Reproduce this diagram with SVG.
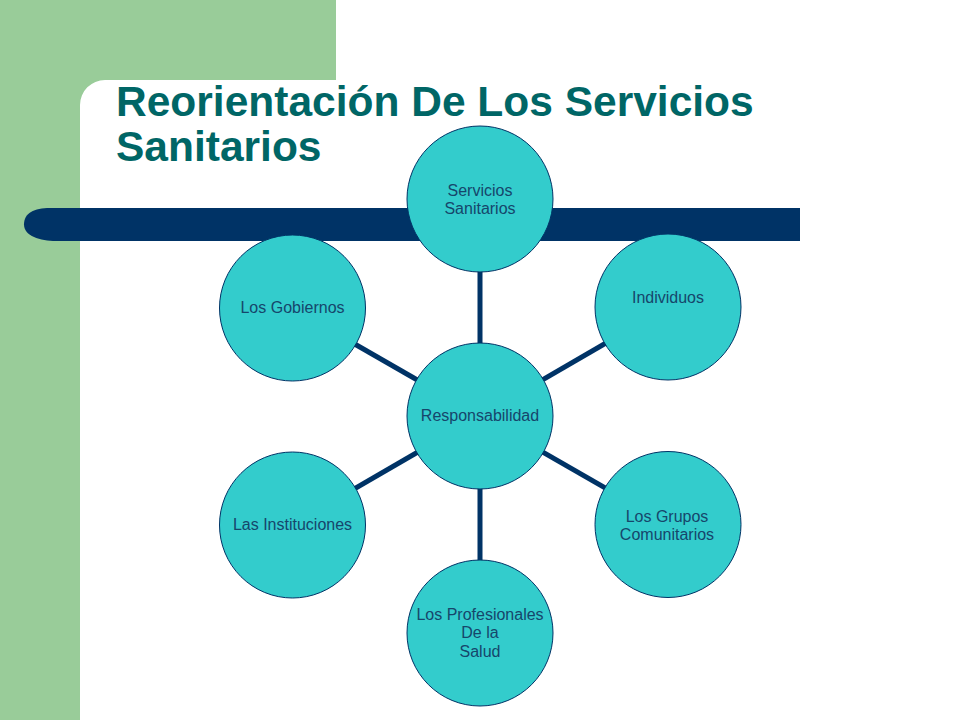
<svg xmlns="http://www.w3.org/2000/svg" width="960" height="720" viewBox="0 0 960 720">
<style>
.node{fill:#33CCCC;stroke:#003366;stroke-width:1}
.lbl{font-family:"Liberation Sans",Arial,sans-serif;font-size:16px;fill:#16466b;text-anchor:middle}
.title{font-family:"Liberation Sans",Arial,sans-serif;font-size:42.5px;font-weight:bold;fill:#006666}
.conn line{stroke:#003366;stroke-width:5}
</style>
<rect x="0" y="0" width="960" height="720" fill="#FFFFFF"/>
<rect x="0" y="0" width="336" height="720" fill="#99CC99"/>
<path d="M80,720 V105 A25,25 0 0 1 105,80 H336 V0 H960 V720 Z" fill="#FFFFFF"/>
<g id="title">
<text class="title" x="116" y="116">Reorientación De Los Servicios</text>
<text class="title" x="116" y="161">Sanitarios</text>
</g>
<path id="bar" d="M800,208 V241 H56 C40,241 24,236 24,224.5 C24,213 34,208 50,208 Z" fill="#003366"/>
<g id="connectors" class="conn">
<line x1="480" y1="416" x2="480" y2="199"/>
<line x1="480" y1="416" x2="668" y2="307"/>
<line x1="480" y1="416" x2="292" y2="308"/>
<line x1="480" y1="416" x2="292" y2="525"/>
<line x1="480" y1="416" x2="668" y2="524"/>
<line x1="480" y1="416" x2="480" y2="633"/>
</g>
<g id="n-resp"><circle class="node" cx="480" cy="416" r="73"/><text class="lbl" x="480" y="421">Responsabilidad</text></g>
<g id="n-serv"><circle class="node" cx="480" cy="199" r="73"/><text class="lbl" x="480" y="196">Servicios</text><text class="lbl" x="480" y="214">Sanitarios</text></g>
<g id="n-ind"><circle class="node" cx="668" cy="307" r="73"/><text class="lbl" x="668" y="303">Individuos</text></g>
<g id="n-gob"><circle class="node" cx="292.5" cy="308" r="73"/><text class="lbl" x="292.5" y="313">Los Gobiernos</text></g>
<g id="n-inst"><circle class="node" cx="292.5" cy="525" r="73"/><text class="lbl" x="292.5" y="530">Las Instituciones</text></g>
<g id="n-grup"><circle class="node" cx="668" cy="524.5" r="73"/><text class="lbl" x="667" y="522">Los Grupos</text><text class="lbl" x="667" y="540">Comunitarios</text></g>
<g id="n-prof"><circle class="node" cx="480" cy="633" r="73"/><text class="lbl" x="480" y="620">Los Profesionales</text><text class="lbl" x="480" y="638">De la</text><text class="lbl" x="480" y="657">Salud</text></g>
</svg>
